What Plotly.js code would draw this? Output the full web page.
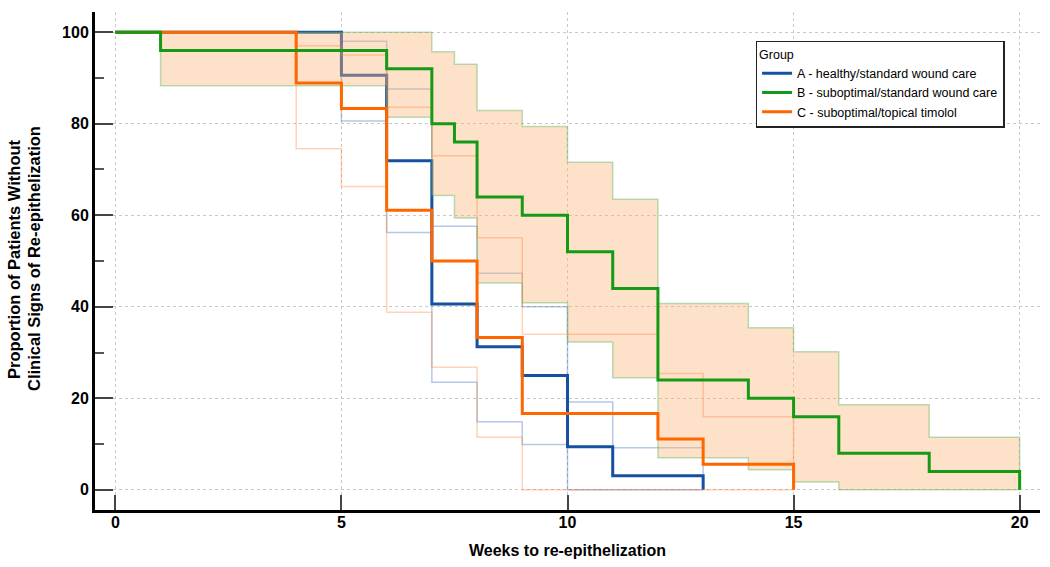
<!DOCTYPE html>
<html>
<head>
<meta charset="utf-8">
<script src="https://cdn.plot.ly/plotly-3.0.1.min.js"></script>
<style>html,body{margin:0;padding:0;background:#fff}#chart{width:1050px;height:567px}</style>
</head>
<body>
<div id="chart"></div>
<script>
// Group A - healthy/standard wound care
const aWeeks = [0, 5, 6, 7, 8, 9, 10, 11, 13];
const aSurv = [100, 90.6, 71.9, 40.6, 31.25, 25, 9.4, 3.1, 0];
const aLowWeeks = [0, 5, 6, 7, 8, 9, 10, 13];
const aLow = [100, 80.6, 56.2, 23.5, 14.9, 9.9, 0, 0];
const aUpWeeks = [0, 5, 6, 7, 8, 9, 10, 11, 13];
const aUp = [100, 98, 87.6, 57.6, 47.3, 40, 19.2, 9.2, 0];

// Group B - suboptimal/standard wound care
const bWeeks = [0, 1, 6, 7, 7.5, 8, 9, 10, 11, 12, 14, 15, 16, 18, 20];
const bSurv = [100, 96, 92, 80, 76, 64, 60, 52, 44, 24, 20, 16, 8, 4, 0];
const bLowWeeks = [0, 1, 6, 7, 7.5, 8, 9, 10, 11, 12, 14, 15, 16, 20];
const bLow = [100, 88.3, 81.4, 64.3, 59.4, 45.2, 40.9, 32.3, 24.5, 7.0, 4.4, 1.7, 0, 0];
const bUpWeeks = [0, 1, 7, 7.5, 8, 9, 10, 11, 12, 14, 15, 16, 18, 20];
const bUp = [100, 100, 95.7, 93, 82.9, 79.4, 71.6, 63.5, 40.7, 35.4, 30.2, 18.6, 11.5, 0];

// Group C - suboptimal/topical timolol
const cWeeks = [0, 4, 5, 6, 7, 8, 9, 12, 13, 15];
const cSurv = [100, 88.9, 83.3, 61.1, 50, 33.3, 16.7, 11.1, 5.6, 0];
const cLowWeeks = [0, 4, 5, 6, 7, 8, 9, 15];
const cLow = [100, 74.5, 66.3, 38.8, 26.8, 11.5, 0, 0];
const cUpWeeks = [0, 4, 5, 6, 7, 8, 9, 12, 13, 15];
const cUp = [100, 97, 95, 83.6, 73, 55.1, 34, 25.4, 16, 0];

const groupNames = ['A - healthy/standard wound care', 'B - suboptimal/standard wound care', 'C - suboptimal/topical timolol'];
const xTicks = [0, 5, 10, 15, 20];
const yTicks = [0, 20, 40, 60, 80, 100];
const xTitle = 'Weeks to re-epithelization';
const yTitleLines = ['Proportion of Patients Without', 'Clinical Signs of Re-epithelization'];

const blue = '#1650a0', green = '#169a16', orange = '#ff6600';
const ci = (x, y, color) => ({x, y, type:'scatter', mode:'lines', line:{shape:'hv', color, width:1.5}, showlegend:false, hoverinfo:'skip'});

const traces = [
  ci(aLowWeeks, aLow, 'rgba(40,100,180,0.35)'),
  ci(aUpWeeks, aUp, 'rgba(40,100,180,0.35)'),
  {x:aWeeks, y:aSurv, type:'scatter', mode:'lines', name:groupNames[0], legendrank:1, line:{shape:'hv', color:blue, width:3}},
  ci(bLowWeeks, bLow, 'rgba(60,170,60,0.35)'),
  Object.assign(ci(bUpWeeks, bUp, 'rgba(60,170,60,0.35)'), {fill:'tonexty', fillcolor:'rgba(250,180,120,0.4)'}),
  ci(cLowWeeks, cLow, 'rgba(255,130,50,0.35)'),
  ci(cUpWeeks, cUp, 'rgba(255,130,50,0.35)'),
  {x:cWeeks, y:cSurv, type:'scatter', mode:'lines', name:groupNames[2], legendrank:3, line:{shape:'hv', color:orange, width:3}},
  {x:bWeeks, y:bSurv, type:'scatter', mode:'lines', name:groupNames[1], legendrank:2, line:{shape:'hv', color:green, width:3}}
];

const font = 'Arial, "Liberation Sans", sans-serif';
const layout = {
  width:1050, height:567,
  margin:{l:95, r:10, t:12, b:57},
  paper_bgcolor:'#fff', plot_bgcolor:'#fff',
  font:{family:font, color:'#000'},
  showlegend:true,
  legend:{x:0.699, y:0.942, xanchor:'left', yanchor:'top', bgcolor:'#fff', bordercolor:'#222', borderwidth:1.5,
          traceorder:'normal',
          font:{family:font, size:12.5, color:'#000'}, title:{text:'Group', font:{family:font, size:12.5}},
          itemwidth:30, tracegroupgap:0},
  xaxis:{range:[-0.45, 20.45], tickvals:xTicks, ticktext:xTicks.map(String), ticks:'inside', ticklen:15, tickwidth:2, tickcolor:'#444',
         showline:true, linecolor:'#000', linewidth:3, showgrid:true, gridcolor:'#c8c8c8', griddash:'dot', gridwidth:1, zeroline:false,
         ticklabelstandoff:-4,
         tickfont:{family:font, size:16, color:'#000', weight:'bold'}},
  yaxis:{range:[-4.4, 104.4], tickvals:yTicks, ticktext:yTicks.map(String), ticks:'inside', ticklen:18, tickwidth:2, tickcolor:'#444',
         minor:{tickvals:[10,30,50,70,90], ticks:'inside', ticklen:9, tickwidth:2, tickcolor:'#555', showgrid:false},
         showline:true, linecolor:'#000', linewidth:3, showgrid:true, gridcolor:'#c8c8c8', griddash:'dot', gridwidth:1, zeroline:false,
         tickfont:{family:font, size:16, color:'#000', weight:'bold'}},
  annotations:[
    {text:'<b>'+xTitle+'</b>', xref:'paper', yref:'paper', x:0.5, y:0, xanchor:'center', yanchor:'middle', yshift:-40, showarrow:false,
     font:{family:font, size:16, color:'#000'}},
    {text:'<b>'+yTitleLines[0]+'</b>', xref:'paper', yref:'paper', x:0, y:0.504, xanchor:'center', yanchor:'middle', xshift:-81, textangle:-90, showarrow:false,
     font:{family:font, size:16.5, color:'#000'}},
    {text:'<b>'+yTitleLines[1]+'</b>', xref:'paper', yref:'paper', x:0, y:0.504, xanchor:'center', yanchor:'middle', xshift:-61, textangle:-90, showarrow:false,
     font:{family:font, size:16.5, color:'#000'}}
  ]
};
Plotly.newPlot('chart', traces, layout, {displayModeBar:false, staticPlot:true});
</script>
</body>
</html>
